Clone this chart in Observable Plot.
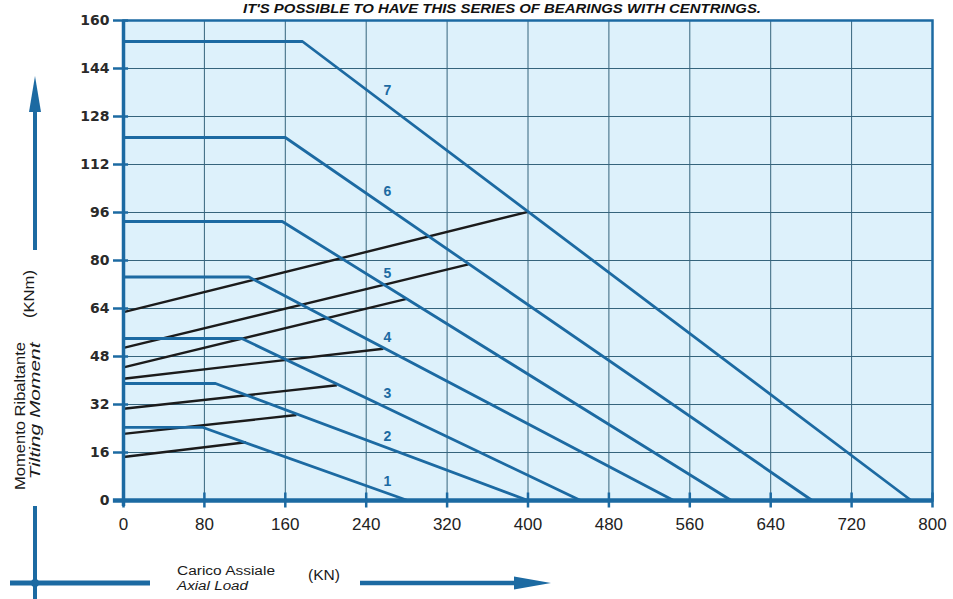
<!DOCTYPE html>
<html><head><meta charset="utf-8">
<script src="https://cdn.jsdelivr.net/npm/d3@7"></script>
<script src="https://cdn.jsdelivr.net/npm/@observablehq/plot@0.6"></script>
<style>
body{margin:0;background:#fff;}
#chart svg{display:block;}
</style>
</head><body><div id="chart"></div>
<script>
// ---- data ----
const xTicks = [0, 80, 160, 240, 320, 400, 480, 560, 640, 720, 800];
const yTicks = [0, 16, 32, 48, 64, 80, 96, 112, 128, 144, 160];
const curveIds = ["1", "2", "3", "4", "5", "6", "7"];
const plateauMoment = [24.4, 39, 54, 74.5, 93, 121, 153];   // KNm, flat part
const kneeLoad = [78, 91, 117, 124, 157, 160, 177];          // KN, end of flat part
const maxLoad = [281, 400, 452, 544, 601, 681, 779];         // KN, moment = 0
const lineStartMoment = [14.5, 22.2, 30.6, 40.6, 44.4, 50.9, 62.8]; // black lines at load 0
const lineEndLoad = [121, 171, 211, 257, 280, 341, 400];
const lineEndMoment = [19.4, 28.5, 38.4, 50.6, 67.2, 78.7, 96.2];
const labelLoad = [261, 261, 261, 261, 261, 261, 261];
const labelMoment = [6.2, 21.2, 35.5, 54.2, 75.7, 103, 136.7];

const title = "IT'S POSSIBLE TO HAVE THIS SERIES OF BEARINGS WITH CENTRINGS.";
const yTitle1 = "Momento Ribaltante";
const yTitle2 = "Tilting Moment";
const yUnit = "(KNm)";
const xTitle1 = "Carico Assiale";
const xTitle2 = "Axial Load";
const xUnit = "(KN)";

// ---- tables built from the arrays ----
const curves = curveIds.flatMap((id, i) => [
  {id, load: 0, moment: plateauMoment[i]},
  {id, load: kneeLoad[i], moment: plateauMoment[i]},
  {id, load: maxLoad[i], moment: 0}
]);
const links = curveIds.map((id, i) => ({id, y1: lineStartMoment[i], x2: lineEndLoad[i], y2: lineEndMoment[i]}));
const labels = curveIds.map((id, i) => ({id, x: labelLoad[i], y: labelMoment[i]}));

const BLUE = "#1c6aa2";
const GRID = "#35647c";
const FONT = "'Liberation Sans', Arial, sans-serif";

const plot = Plot.plot({
  width: 953, height: 599,
  marginLeft: 123, marginRight: 21, marginTop: 20, marginBottom: 99,
  x: {domain: [0, 800]},
  y: {domain: [0, 160]},
  style: {fontFamily: FONT, background: "white", overflow: "visible"},
  marks: [
    Plot.frame({fill: "#ddf1fb", stroke: null}),
    Plot.gridX(xTicks, {stroke: GRID, strokeOpacity: 1, strokeWidth: 1}),
    Plot.gridY(yTicks, {stroke: GRID, strokeOpacity: 1, strokeWidth: 1}),
    Plot.link(links, {x1: 0, y1: "y1", x2: "x2", y2: "y2", stroke: "#1b1b1b", strokeWidth: 2.4}),
    Plot.line(curves, {x: "load", y: "moment", z: "id", stroke: BLUE, strokeWidth: 2.8}),
    Plot.text(labels, {x: "x", y: "y", text: "id", fill: BLUE, fontWeight: "bold", fontSize: 14}),
    Plot.frame({stroke: BLUE, strokeWidth: 2.5}),
    Plot.ruleX([0], {y1: -2, y2: 160, stroke: BLUE, strokeWidth: 3.5, clip: false}),
    Plot.ruleY([0], {x1: -10, x2: 800, stroke: BLUE, strokeWidth: 4.5, clip: false}),
    Plot.ruleX(xTicks, {y1: -2.5, y2: 2.5, stroke: BLUE, strokeWidth: 2.5, clip: false}),
    Plot.ruleY(yTicks, {x1: 0, x2: 5, stroke: BLUE, strokeWidth: 2.5}),
    Plot.axisY(yTicks, {tickSize: 10, tickPadding: 4, stroke: BLUE, strokeWidth: 2.5, fill: "#2a2a2a", label: null}),
    Plot.axisX(xTicks, {tickSize: 0, tickPadding: 17, fill: "#222", label: null})
  ]
});

document.getElementById("chart").appendChild(plot);
const svg = d3.select(plot);

svg.selectAll('g[aria-label="y-axis tick label"] text')
  .style("font-family", "'DejaVu Sans', sans-serif").style("font-size", "14px").style("font-weight", "bold");
svg.selectAll('g[aria-label="x-axis tick label"] text')
  .style("font-size", "17px");

// title (at the top edge, as in the reference)
svg.append("text").attr("x", 243).attr("y", 13).attr("text-anchor", "start")
  .attr("textLength", 518).attr("lengthAdjust", "spacingAndGlyphs")
  .attr("font-family", FONT).attr("font-size", 12).attr("font-weight", "bold").attr("font-style", "italic")
  .attr("fill", "#111").text(title);

// y-axis title block
const g = svg.append("g").attr("font-family", FONT).attr("fill", "#1a1a1a");
g.append("text").attr("transform", "translate(25,416) rotate(-90)").attr("text-anchor", "middle")
  .attr("font-size", 14).attr("textLength", 148).attr("lengthAdjust", "spacingAndGlyphs").text(yTitle1);
g.append("text").attr("transform", "translate(40,411) rotate(-90)").attr("text-anchor", "middle")
  .attr("font-size", 14).attr("font-style", "italic").attr("textLength", 137).attr("lengthAdjust", "spacingAndGlyphs").text(yTitle2);
g.append("text").attr("transform", "translate(34,294) rotate(-90)").attr("text-anchor", "middle")
  .attr("font-size", 14).attr("textLength", 48).attr("lengthAdjust", "spacingAndGlyphs").text(yUnit);

// x-axis title block
g.append("text").attr("x", 177).attr("y", 575).attr("text-anchor", "start").attr("font-size", 12)
  .attr("textLength", 98).attr("lengthAdjust", "spacingAndGlyphs").text(xTitle1);
g.append("text").attr("x", 177).attr("y", 590).attr("text-anchor", "start").attr("font-size", 12).attr("font-style", "italic")
  .attr("textLength", 71).attr("lengthAdjust", "spacingAndGlyphs").text(xTitle2);
g.append("text").attr("x", 308).attr("y", 580).attr("text-anchor", "start").attr("font-size", 14)
  .attr("textLength", 32).attr("lengthAdjust", "spacingAndGlyphs").text(xUnit);

// arrows
const a = svg.append("g").attr("stroke", BLUE).attr("fill", BLUE);
a.append("line").attr("x1", 35).attr("y1", 250).attr("x2", 35).attr("y2", 100).attr("stroke-width", 4);
a.append("path").attr("d", "M35,76 L41,112 L29,112 Z").attr("stroke", "none");
a.append("line").attr("x1", 35).attr("y1", 506).attr("x2", 35).attr("y2", 599).attr("stroke-width", 4);
a.append("line").attr("x1", 10).attr("y1", 583).attr("x2", 150).attr("y2", 583).attr("stroke-width", 5);
a.append("circle").attr("cx", 35).attr("cy", 583).attr("r", 4).attr("stroke", "none");
a.append("line").attr("x1", 360).attr("y1", 583).attr("x2", 520).attr("y2", 583).attr("stroke-width", 4.5);
a.append("path").attr("d", "M551,583 L514,576.5 L514,589.5 Z").attr("stroke", "none");
</script>
</body></html>
